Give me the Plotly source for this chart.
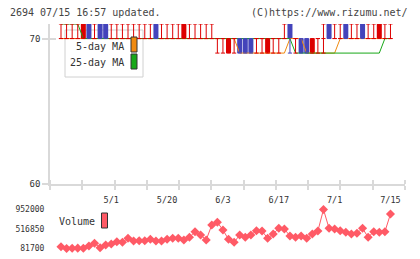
import plotly.graph_objects as go
import numpy as np

# ---------------- data ----------------
tick_index = [9, 19, 29, 39, 49, 59]
tick_labels = ["5/1", "5/20", "6/3", "6/17", "7/1", "7/15"]

open_ = [70, 70, 70, 70, 70, 71, 70, 71, 71, 70,
         70, 70, 70, 70, 70, 70, 70, 71, 70, 70,
         70, 70, 70, 70, 70, 70, 70, 70, 70, 70,
         69, 70, 70, 70, 70, 70, 70, 69, 70, 70,
         70, 71, 70, 70, 70, 69, 70, 70, 71, 70,
         70, 71, 70, 70, 71, 70, 70, 70, 70, 70]
close = [70, 70, 70, 70, 71, 70, 70, 70, 70, 70,
         70, 70, 70, 70, 70, 70, 70, 70, 70, 70,
         70, 70, 71, 70, 70, 70, 70, 70, 70, 70,
         70, 70, 69, 69, 69, 70, 70, 70, 70, 70,
         70, 70, 70, 69, 69, 70, 70, 70, 70, 70,
         70, 70, 70, 70, 70, 70, 70, 71, 70, 70]
high = [71, 71, 71, 71, 71, 71, 71, 71, 71, 71,
        71, 71, 71, 71, 71, 71, 71, 71, 71, 71,
        71, 71, 71, 71, 71, 71, 71, 71, 70, 70,
        70, 70, 70, 70, 70, 70, 70, 70, 70, 70,
        71, 71, 70, 70, 70, 70, 70, 71, 71, 71,
        71, 71, 71, 71, 71, 71, 71, 71, 71, 71]
low = [70, 70, 70, 70, 70, 70, 70, 70, 70, 70,
       70, 70, 70, 70, 70, 70, 70, 70, 70, 70,
       70, 70, 70, 70, 70, 70, 70, 70, 69, 69,
       69, 69, 69, 69, 69, 69, 69, 69, 69, 69,
       70, 69, 69, 69, 69, 69, 69, 69, 70, 70,
       70, 70, 70, 70, 70, 70, 70, 70, 70, 70]

ma5 = [70, 70, 70, 70, 70, 70, 70, 70, 70, 70,
       70, 70, 70, 70, 70, 70, 70, 70, 70, 70,
       70, 70, 70, 70, 70, 70, 70, 70, 70, 70,
       70, 70, 69, 69, 69, 69, 69, 69, 69, 69,
       69, 70, 70, 70, 69, 69, 69, 69, 69, 69,
       70, 70, 70, 70, 70, 70, 70, 70, 70, 70]
ma25 = [71, 71, 71, 71, 70, 70, 70, 70, 70, 70,
        70, 70, 70, 70, 70, 70, 70, 70, 70, 70,
        70, 70, 70, 70, 70, 70, 70, 70, 70, 70,
        70, 70, 70, 70, 70, 70, 70, 70, 70, 70,
        70, 70, 69, 69, 69, 69, 69, 69, 69, 69,
        69, 69, 69, 69, 69, 69, 69, 69, 70, 70]

volume = [122000, 81700, 88000, 90000, 88000, 137500, 197700, 99500, 159800, 182100,
          233400, 220000, 309300, 249100, 255800, 255800, 287000, 249100, 249100, 287000,
          309300, 309300, 271400, 331600, 456600, 382900, 271400, 606100, 666400, 494500,
          287000, 220000, 382900, 331600, 382900, 478900, 472200, 309300, 405300, 532500,
          516800, 360600, 331600, 360600, 309300, 405300, 472200, 952000, 532500, 516800,
          478900, 443200, 405300, 420900, 532500, 331600, 456600, 443200, 456600, 851600]

vol_ticks = [81700, 516850, 952000]
vol_labels = ["81700", "516850", "952000"]

title_left = "2694 07/15 16:57 updated."
title_right = "(C)https://www.rizumu.net/"

# ---------------- style ----------------
RED = "#dd0000"
BLUE = "#4444bb"
ORANGE = "#f08a10"
GREEN = "#18a818"
VOLC = "#ff5a66"
AXC = "#d9d9d9"
FONT = "DejaVu Sans Mono"
TXT = "#333333"

W, H = 420, 259
ML, MR, MT, MB = 50, 15, 24, 6
PW, PH = W - ML - MR, H - MT - MB


def px_x(p):
    return (p - ML) / PW


def px_y(p):
    return (H - MB - p) / PH


n = len(close)
idx = np.arange(n)
xr = [-1.97, 61.6]

BODY_W = 0.9
CAP_W = 0.75

fig = go.Figure()

# moving averages (behind candles)
fig.add_trace(go.Scatter(x=idx, y=ma5, mode="lines", line=dict(color=ORANGE, width=1),
                         xaxis="x", yaxis="y", hoverinfo="skip"))
fig.add_trace(go.Scatter(x=idx, y=ma25, mode="lines", line=dict(color=GREEN, width=1),
                         xaxis="x", yaxis="y", hoverinfo="skip"))

# candle lines (wicks, caps, doji bodies)
seg = {RED: ([], []), BLUE: ([], [])}
for i in range(n):
    o, h, l, c = open_[i], high[i], low[i], close[i]
    col = BLUE if c < o else RED
    xs, ys = seg[col]
    xs += [i, i, None]
    ys += [l, h, None]
    for v in (h, l):
        xs += [i - CAP_W / 2, i + CAP_W / 2, None]
        ys += [v, v, None]
    if o == c:
        xs += [i - CAP_W / 2, i + CAP_W / 2, None]
        ys += [o, o, None]
for col, (xs, ys) in seg.items():
    fig.add_trace(go.Scatter(x=xs, y=ys, mode="lines", line=dict(color=col, width=1),
                             xaxis="x", yaxis="y", hoverinfo="skip"))

# candle bodies
for col, cond in ((RED, lambda o, c: c > o), (BLUE, lambda o, c: c < o)):
    sel = [i for i in range(n) if cond(open_[i], close[i])]
    fig.add_trace(go.Bar(x=[i for i in sel], y=[close[i] - open_[i] for i in sel],
                         base=[open_[i] for i in sel], width=BODY_W,
                         marker=dict(color=col, line=dict(width=0)),
                         xaxis="x", yaxis="y", hoverinfo="skip"))

# volume
fig.add_trace(go.Scatter(x=idx, y=volume, mode="lines+markers",
                         line=dict(color=VOLC, width=1),
                         marker=dict(symbol="diamond", size=7, color=VOLC),
                         xaxis="x2", yaxis="y2", hoverinfo="skip", cliponaxis=False))

# empty trace for crossing tick marks
fig.add_trace(go.Scatter(x=[], y=[], xaxis="x3", yaxis="y3", showlegend=False))

minor_vals = list(np.linspace(xr[0], xr[1], 12))

main_top = px_y(24)
main_bot = px_y(184)
vol_top = px_y(205)
vol_bot = px_y(253)
vol_per_px = (952000 - 81700) / (248.5 - 209.5)
vol_range = [81700 - (253 - 248.5) * vol_per_px, 952000 + (209.5 - 205) * vol_per_px]

fig.update_layout(
    width=W, height=H, margin=dict(l=ML, r=MR, t=MT, b=MB, autoexpand=False),
    paper_bgcolor="white", plot_bgcolor="white", showlegend=False,
    barmode="overlay",
    font=dict(family=FONT, size=9, color=TXT),
    xaxis=dict(domain=[0, 1], range=xr, anchor="y", showgrid=False, zeroline=False,
               automargin=False,
               showline=True, linecolor=AXC, linewidth=1.5,
               tickmode="array", tickvals=tick_index, ticktext=tick_labels,
               ticks="outside", ticklen=7, tickcolor="rgba(0,0,0,0)",
               tickfont=dict(size=8.5, color=TXT),
               minor=dict(tickmode="array", tickvals=minor_vals, ticks="outside",
                          ticklen=4, tickcolor=AXC, tickwidth=1.5)),
    yaxis=dict(domain=[main_bot, main_top], range=[60, 71], anchor="x",
               automargin=False,
               showgrid=False, zeroline=False, showline=True, linecolor=AXC, linewidth=1.5,
               tickmode="array", tickvals=[60, 70], ticks="outside", ticklen=6,
               tickcolor=AXC, tickwidth=1.5, tickfont=dict(size=9, color=TXT)),
    xaxis3=dict(overlaying="x", anchor="y", range=xr, showgrid=False, zeroline=False,
                automargin=False,
                showline=False, showticklabels=False, tickmode="array", tickvals=[],
                minor=dict(tickmode="array", tickvals=minor_vals, ticks="inside",
                           ticklen=4, tickcolor=AXC, tickwidth=1.5)),
    yaxis3=dict(overlaying="y", anchor="x", range=[60, 71], showgrid=False, zeroline=False,
                automargin=False,
                showline=False, showticklabels=False, tickmode="array", tickvals=[60, 70],
                ticks="inside", ticklen=6, tickcolor=AXC, tickwidth=1.5),
    xaxis2=dict(domain=[0, 1], range=xr, anchor="y2", visible=False, automargin=False),
    yaxis2=dict(domain=[vol_bot, vol_top], range=vol_range, anchor="x2",
                automargin=False,
                showgrid=False, zeroline=False, showline=False,
                tickmode="array", tickvals=vol_ticks, ticktext=vol_labels,
                ticks="outside", ticklen=3, tickcolor="rgba(0,0,0,0)",
                tickfont=dict(size=8, color=TXT)),
)

# legend box & swatches
shapes = [
    dict(type="rect", xref="paper", yref="paper", layer="below",
         x0=px_x(65), x1=px_x(143), y0=px_y(77), y1=px_y(30),
         line=dict(color="#d0d0d0", width=1), fillcolor="white"),
    dict(type="rect", xref="paper", yref="paper",
         x0=px_x(131), x1=px_x(137), y0=px_y(52), y1=px_y(37),
         line=dict(color="#333333", width=1), fillcolor=ORANGE),
    dict(type="rect", xref="paper", yref="paper",
         x0=px_x(131), x1=px_x(137), y0=px_y(69), y1=px_y(54),
         line=dict(color="#333333", width=1), fillcolor=GREEN),
    dict(type="rect", xref="paper", yref="paper",
         x0=px_x(101.5), x1=px_x(107.5), y0=px_y(228), y1=px_y(213),
         line=dict(color="#333333", width=1), fillcolor=VOLC),
]
fig.update_layout(shapes=shapes)

ann = [
    dict(text=title_left, x=px_x(8), y=px_y(12), xanchor="left"),
    dict(text=title_right, x=px_x(410), y=px_y(12), xanchor="right"),
]
for a in ann:
    a.update(xref="paper", yref="paper", showarrow=False, yanchor="middle",
             font=dict(family=FONT, size=10, color="#444444"))
legend_txt = [
    dict(text="5-day MA", x=px_x(126), y=px_y(46), xanchor="right"),
    dict(text="25-day MA", x=px_x(126), y=px_y(63), xanchor="right"),
    dict(text="Volume", x=px_x(57), y=px_y(221), xanchor="left"),
]
for a in legend_txt:
    a.update(xref="paper", yref="paper", showarrow=False, yanchor="middle",
             font=dict(family=FONT, size=10, color="#333333"))
fig.update_layout(annotations=ann + legend_txt)

fig.write_html("out.html")
